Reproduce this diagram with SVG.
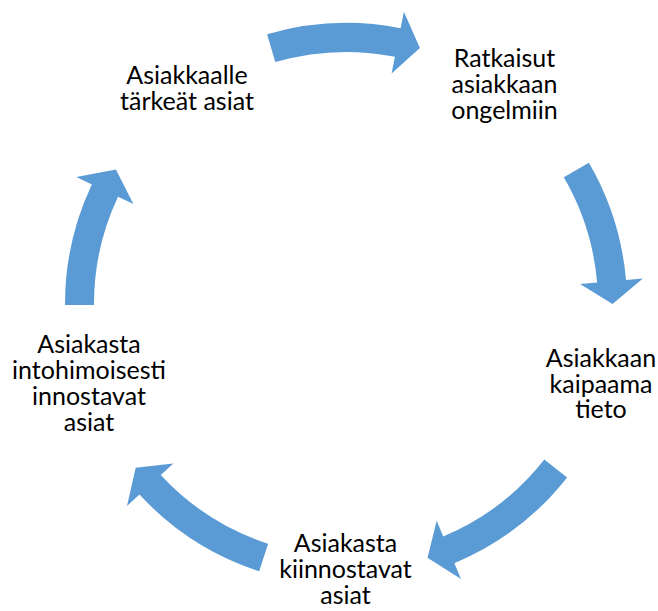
<svg xmlns="http://www.w3.org/2000/svg" width="658" height="611" viewBox="0 0 658 611">
<style>
.arrow{fill:#5B9BD5;stroke:none}
.lbl{font-family:Lato,"Liberation Sans",sans-serif;font-size:25px;fill:#000;text-anchor:middle}
</style>
<rect width="658" height="611" fill="#fff"/>
<g id="connectors">
<path class="arrow" d="M267.1,34.3 A281,281 0 0 1 400.6,28.3 L403.9,11.7 L419.9,47.9 L391.6,73.5 L394.9,56.8 A252,252 0 0 0 275.3,62.1 Z"/>
<path class="arrow" d="M588.9,162.7 A281,281 0 0 1 626.0,280.0 L642.9,278.5 L612.5,304 L580.1,283.9 L597.1,282.5 A252,252 0 0 0 563.8,177.2 Z"/>
<path class="arrow" d="M567.1,477.4 A281,281 0 0 1 454.4,563.2 L461.0,578.9 L427.5,557.7 L436.7,520.8 L443.2,536.5 A252,252 0 0 0 544.3,459.5 Z"/>
<path class="arrow" d="M259.2,571.3 A281,281 0 0 1 139.5,494.6 L127.0,506.1 L135.7,467.7 L173.3,463.4 L160.8,474.9 A252,252 0 0 0 268.1,543.7 Z"/>
<path class="arrow" d="M65.0,305.0 A281,281 0 0 1 91.8,184.4 L76.4,177.1 L115.9,169.6 L133.4,203.9 L118.0,196.7 A252,252 0 0 0 94.0,304.9 Z"/>
</g>
<g id="node1">
<text class="lbl" x="187" y="83.5">Asiakkaalle<tspan x="187" dy="26">tärkeät asiat</tspan></text>
</g>
<g id="node2">
<text class="lbl" x="504.5" y="66.7">Ratkaisut<tspan x="504.5" dy="26">asiakkaan</tspan><tspan x="504.5" dy="26">ongelmiin</tspan></text>
</g>
<g id="node3">
<text class="lbl" x="601" y="366.7">Asiakkaan<tspan x="601" dy="25.8">kaipaama</tspan><tspan x="601" dy="25.8">tieto</tspan></text>
</g>
<g id="node4">
<text class="lbl" x="345.5" y="551.7">Asiakasta<tspan x="345.5" dy="26.3">kiinnostavat</tspan><tspan x="345.5" dy="26">asiat</tspan></text>
</g>
<g id="node5">
<text class="lbl" x="89" y="353.3">Asiakasta<tspan x="89" dy="26">intohimoisesti</tspan><tspan x="89" dy="25.8">innostavat</tspan><tspan x="89" dy="26">asiat</tspan></text>
</g>
</svg>
